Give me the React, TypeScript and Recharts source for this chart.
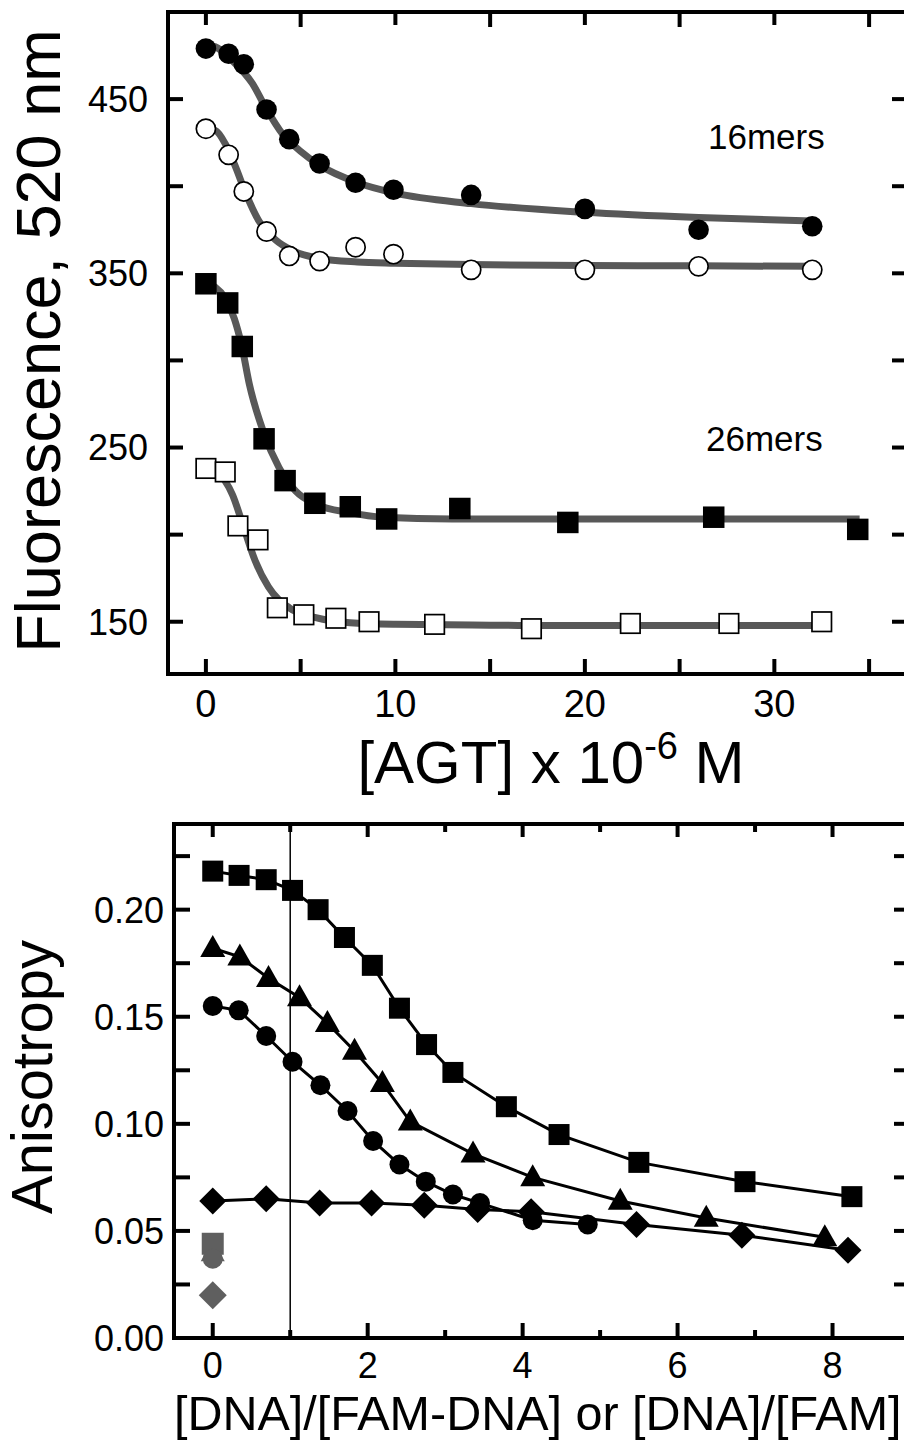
import React from 'react';
import {
  ComposedChart,
  Line,
  Scatter,
  XAxis,
  YAxis,
  ReferenceArea,
  ReferenceLine,
} from 'recharts';

// ---- top panel: fluorescence at 520 nm vs [AGT] (x 10^-6 M)
const agt16 = [0, 1.2, 2.0, 3.2, 4.4, 6.0, 7.9, 9.9, 14.0, 20.0, 26.0, 32.0];
const fl16Filled = [479, 476, 470, 444, 427, 413, 402, 398, 395, 387, 375, 377];
const fl16Open = [433, 418, 397, 374, 360, 357, 365, 361, 352, 352, 354, 352];

const agt26Filled = [0, 1.15, 1.92, 3.07, 4.18, 5.75, 7.62, 9.54, 13.4, 19.1, 26.8, 34.4];
const fl26Filled = [344, 333, 308, 255, 231, 218, 216, 209, 215, 207, 210, 203];
const agt26Open = [0, 1.02, 1.69, 2.75, 3.77, 5.17, 6.86, 8.61, 12.07, 17.18, 22.4, 27.6, 32.5];
const fl26Open = [238, 236, 205, 197, 158, 154, 152, 150, 148.5, 146, 149, 149, 150];

// fitted curves
const fit16FilledX = [0, 0.5, 1.4, 2.45, 3.16, 4.04, 5, 6, 8, 10, 14, 20, 26, 32];
const fit16FilledY = [481, 480, 472, 459, 445, 430, 420, 412, 402, 396, 390, 385, 382, 380];
const fit16OpenX = [0, 0.5, 1.04, 1.57, 2.1, 2.8, 3.69, 4.57, 6, 8, 10, 14, 20, 26, 32];
const fit16OpenY = [433, 432, 424, 411, 396, 380, 369, 363, 358.5, 356.5, 355.8, 355, 354.5, 354.3, 354];
const fit26FilledX = [0, 0.5, 1, 1.5, 1.9, 2.3, 3.07, 3.86, 4.74, 5.8, 7.6, 9.3, 13, 20, 34.5];
const fit26FilledY = [344, 342, 336, 324, 308, 286, 258, 238.5, 225, 217.5, 212.6, 210, 209, 209, 209];
const fit26OpenX = [0, 0.5, 1, 1.4, 2, 2.6, 3.3, 4.4, 5.8, 7.6, 10, 15, 20, 32.5];
const fit26OpenY = [238, 236.5, 231, 223, 204, 185, 170, 158, 152.3, 149.4, 148.5, 148, 147.8, 147.8];

const topXTicks = [0, 5, 10, 15, 20, 25, 30, 35];
const topXLabels = [0, 10, 20, 30];
const topYTicks = [150, 200, 250, 300, 350, 400, 450];
const topYLabels = [150, 250, 350, 450];

// ---- bottom panel: anisotropy vs [DNA]/[FAM-DNA]
const sqX = [0, 0.34, 0.69, 1.03, 1.36, 1.7, 2.06, 2.41, 2.76, 3.1, 3.79, 4.47, 5.5, 6.87, 8.25];
const sqY = [0.218, 0.216, 0.214, 0.209, 0.2, 0.187, 0.174, 0.154, 0.137, 0.124, 0.108, 0.095, 0.082, 0.073, 0.066];
const triX = [0, 0.35, 0.72, 1.12, 1.48, 1.83, 2.19, 2.55, 3.36, 4.13, 5.26, 6.37, 7.9];
const triY = [0.182, 0.178, 0.168, 0.159, 0.147, 0.134, 0.119, 0.101, 0.086, 0.075, 0.064, 0.056, 0.047];
const circX = [0, 0.335, 0.69, 1.03, 1.39, 1.74, 2.07, 2.41, 2.75, 3.1, 3.45, 4.13, 4.84];
const circY = [0.155, 0.153, 0.141, 0.129, 0.118, 0.106, 0.092, 0.081, 0.073, 0.067, 0.063, 0.055, 0.053];
const diaX = [0, 0.69, 1.38, 2.05, 2.73, 3.42, 4.11, 5.47, 6.83, 8.2];
const diaY = [0.064, 0.065, 0.063, 0.063, 0.062, 0.06, 0.059, 0.053, 0.048, 0.041];
// free FAM controls (grey) at x = 0
const ctrlSq = 0.044;
const ctrlTri = 0.04;
const ctrlCirc = 0.037;
const ctrlDia = 0.02;

const botXTicks = [0, 1, 2, 3, 4, 5, 6, 7, 8];
const botXLabels = [0, 2, 4, 6, 8];
const botYTicks = [0, 0.025, 0.05, 0.075, 0.1, 0.125, 0.15, 0.175, 0.2, 0.225];
const botYLabels = [0, 0.05, 0.1, 0.15, 0.2];

const zip = (xs: number[], ys: number[]) => xs.map((x, i) => ({ x, y: ys[i] }));

const FIT_GREY = '#585858';
const CTRL_GREY = '#5f5f5f';
const FONT = '"Liberation Sans", Arial, Helvetica, sans-serif';

// plot boxes (pixels)
const TOP = { left: 168, top: 12, right: 907, bottom: 674 };
const BOT = { left: 174, top: 24, right: 910, bottom: 538 }; // relative to chart at y=800

// ---- marker shapes
const disc = (r: number, filled: boolean, color = '#000') => (p: any) =>
  <circle cx={p.cx} cy={p.cy} r={r} fill={filled ? color : '#fff'} stroke={color} strokeWidth={filled ? 0 : 1.7} />;
const box = (s: number, filled: boolean, color = '#000') => (p: any) =>
  <rect x={p.cx - s / 2} y={p.cy - s / 2} width={s} height={s} fill={filled ? color : '#fff'} stroke={color} strokeWidth={filled ? 0 : 1.7} />;
const tri = (w: number, h: number, color = '#000') => (p: any) =>
  <polygon points={`${p.cx},${p.cy - h * 0.6} ${p.cx + w / 2},${p.cy + h * 0.4} ${p.cx - w / 2},${p.cy + h * 0.4}`} fill={color} />;
const dia = (d: number, color = '#000') => (p: any) =>
  <polygon points={`${p.cx},${p.cy - d} ${p.cx + d},${p.cy} ${p.cx},${p.cy + d} ${p.cx - d},${p.cy}`} fill={color} />;

// ---- ticks (inward, on all four sides) with labels
type TickCfg = {
  labels: number[];
  fmt: (v: number) => string;
  span: number; // plot height (x axis) or width (y axis)
  major: number;
  minor: number;
  opposite: number;
  fontSize: number;
  offset: number;
};

const isLabel = (labels: number[], v: number) => labels.some((l) => Math.abs(l - v) < 1e-9);

function makeXTick(c: TickCfg) {
  return (p: any) => {
    const { x, y, payload } = p;
    const lab = isLabel(c.labels, payload.value);
    const len = lab ? c.major : c.minor;
    return (
      <g>
        <line x1={x} y1={y} x2={x} y2={y - len} stroke="#000" strokeWidth={4} />
        <line x1={x} y1={y - c.span} x2={x} y2={y - c.span + (lab ? c.opposite : c.minor)} stroke="#000" strokeWidth={4} />
        {lab && (
          <text x={x} y={y + c.offset} textAnchor="middle" fontSize={c.fontSize} fontFamily={FONT} fill="#000">
            {c.fmt(payload.value)}
          </text>
        )}
      </g>
    );
  };
}

function makeYTick(c: TickCfg) {
  return (p: any) => {
    const { x, y, payload } = p;
    const lab = isLabel(c.labels, payload.value);
    const len = lab ? c.major : c.minor;
    return (
      <g>
        <line x1={x} y1={y} x2={x + len} y2={y} stroke="#000" strokeWidth={4} />
        <line x1={x + c.span} y1={y} x2={x + c.span - c.opposite} y2={y} stroke="#000" strokeWidth={4} />
        {lab && (
          <text x={x - c.offset} y={y + c.fontSize * 0.36} textAnchor="end" fontSize={c.fontSize} fontFamily={FONT} fill="#000">
            {c.fmt(payload.value)}
          </text>
        )}
      </g>
    );
  };
}

// axes need a non-zero size or recharts skips them, so reserve 1px each
function TopPanel() {
  const W = 920;
  const H = 800;
  const pw = TOP.right - TOP.left;
  const ph = TOP.bottom - TOP.top;
  return (
    <ComposedChart width={W} height={H}
      margin={{ top: TOP.top, left: TOP.left - 1, right: W - TOP.right, bottom: H - TOP.bottom - 1 }}>
      <XAxis type="number" dataKey="x" domain={[-2, 37]} ticks={topXTicks} interval={0} height={1}
        axisLine={false} tickLine={false} tickSize={0} tickMargin={0} allowDataOverflow
        tick={makeXTick({ labels: topXLabels, fmt: (v) => String(v), span: ph, major: 15, minor: 15, opposite: 13, fontSize: 38, offset: 43 })} />
      <YAxis type="number" domain={[120, 500]} ticks={topYTicks} interval={0} width={1}
        axisLine={false} tickLine={false} tickSize={0} tickMargin={0} allowDataOverflow
        tick={makeYTick({ labels: topYLabels, fmt: (v) => String(v), span: pw, major: 15, minor: 15, opposite: 15, fontSize: 36, offset: 20 })} />
      <ReferenceArea x1={-2} x2={37} y1={120} y2={500} fill="none" stroke="#000" strokeWidth={4} />
      <Line data={zip(fit16FilledX, fit16FilledY)} dataKey="y" type="monotone" stroke={FIT_GREY} strokeWidth={7} dot={false} isAnimationActive={false} />
      <Line data={zip(fit16OpenX, fit16OpenY)} dataKey="y" type="monotone" stroke={FIT_GREY} strokeWidth={7} dot={false} isAnimationActive={false} />
      <Line data={zip(fit26FilledX, fit26FilledY)} dataKey="y" type="monotone" stroke={FIT_GREY} strokeWidth={7} dot={false} isAnimationActive={false} />
      <Line data={zip(fit26OpenX, fit26OpenY)} dataKey="y" type="monotone" stroke={FIT_GREY} strokeWidth={7} dot={false} isAnimationActive={false} />
      <Scatter data={zip(agt16, fl16Filled)} dataKey="y" shape={disc(10.3, true)} isAnimationActive={false} />
      <Scatter data={zip(agt16, fl16Open)} dataKey="y" shape={disc(9.6, false)} isAnimationActive={false} />
      <Scatter data={zip(agt26Filled, fl26Filled)} dataKey="y" shape={box(21.5, true)} isAnimationActive={false} />
      <Scatter data={zip(agt26Open, fl26Open)} dataKey="y" shape={box(19.5, false)} isAnimationActive={false} />
    </ComposedChart>
  );
}

function BottomPanel() {
  const W = 920;
  const H = 645;
  const pw = BOT.right - BOT.left;
  const ph = BOT.bottom - BOT.top;
  return (
    <ComposedChart width={W} height={H}
      margin={{ top: BOT.top, left: BOT.left - 1, right: W - BOT.right, bottom: H - BOT.bottom - 1 }}>
      <XAxis type="number" dataKey="x" domain={[-0.5, 9]} ticks={botXTicks} interval={0} height={1}
        axisLine={false} tickLine={false} tickSize={0} tickMargin={0} allowDataOverflow
        tick={makeXTick({ labels: botXLabels, fmt: (v) => String(v), span: ph, major: 15, minor: 8, opposite: 13, fontSize: 36, offset: 40 })} />
      <YAxis type="number" domain={[0, 0.24]} ticks={botYTicks} interval={0} width={1}
        axisLine={false} tickLine={false} tickSize={0} tickMargin={0} allowDataOverflow
        tick={makeYTick({ labels: botYLabels, fmt: (v) => v.toFixed(2), span: pw, major: 16, minor: 16, opposite: 16, fontSize: 36, offset: 10 })} />
      <ReferenceArea x1={-0.5} x2={9} y1={0} y2={0.24} fill="none" stroke="#000" strokeWidth={4} />
      <ReferenceLine x={1} stroke="#000" strokeWidth={1.5} />
      <Line data={zip(sqX, sqY)} dataKey="y" type="linear" stroke="#000" strokeWidth={3} dot={false} isAnimationActive={false} />
      <Line data={zip(triX, triY)} dataKey="y" type="linear" stroke="#000" strokeWidth={3} dot={false} isAnimationActive={false} />
      <Line data={zip(circX, circY)} dataKey="y" type="linear" stroke="#000" strokeWidth={3} dot={false} isAnimationActive={false} />
      <Line data={zip(diaX, diaY)} dataKey="y" type="linear" stroke="#000" strokeWidth={3} dot={false} isAnimationActive={false} />
      <Scatter data={zip(sqX, sqY)} dataKey="y" shape={box(21, true)} isAnimationActive={false} />
      <Scatter data={zip(triX, triY)} dataKey="y" shape={tri(25, 22)} isAnimationActive={false} />
      <Scatter data={zip(circX, circY)} dataKey="y" shape={disc(10, true)} isAnimationActive={false} />
      <Scatter data={zip(diaX, diaY)} dataKey="y" shape={dia(13.5)} isAnimationActive={false} />
      <Scatter data={[{ x: 0, y: ctrlTri }]} dataKey="y" shape={tri(24, 22, CTRL_GREY)} isAnimationActive={false} />
      <Scatter data={[{ x: 0, y: ctrlSq }]} dataKey="y" shape={box(22, true, CTRL_GREY)} isAnimationActive={false} />
      <Scatter data={[{ x: 0, y: ctrlCirc }]} dataKey="y" shape={disc(10, true, CTRL_GREY)} isAnimationActive={false} />
      <Scatter data={[{ x: 0, y: ctrlDia }]} dataKey="y" shape={dia(14, CTRL_GREY)} isAnimationActive={false} />
    </ComposedChart>
  );
}

export default function App() {
  return (
    <div style={{ position: 'absolute', left: 0, top: 0, width: 904, height: 1445, overflow: 'hidden', background: '#fff', fontFamily: FONT }}>
      <div style={{ position: 'absolute', left: 0, top: 0 }}>
        <TopPanel />
      </div>
      <div style={{ position: 'absolute', left: 0, top: 800 }}>
        <BottomPanel />
      </div>
      <svg width={904} height={1445} style={{ position: 'absolute', left: 0, top: 0, pointerEvents: 'none' }}>
        <g fontFamily={FONT} fill="#000">
          <text transform="translate(60,341) rotate(-90)" textAnchor="middle" fontSize={63}>Fluorescence, 520 nm</text>
          <text x={708} y={149} fontSize={35}>16mers</text>
          <text x={706} y={451} fontSize={35}>26mers</text>
          <text x={551} y={783} textAnchor="middle" fontSize={60}>
            [AGT] x 10<tspan dy={-24} fontSize={38}>-6</tspan><tspan dy={24} fontSize={60}> M</tspan>
          </text>
          <text transform="translate(52,1077) rotate(-90)" textAnchor="middle" fontSize={58}>Anisotropy</text>
          <text x={174} y={1430} fontSize={48.5}>[DNA]/[FAM-DNA] or [DNA]/[FAM]</text>
        </g>
      </svg>
    </div>
  );
}
